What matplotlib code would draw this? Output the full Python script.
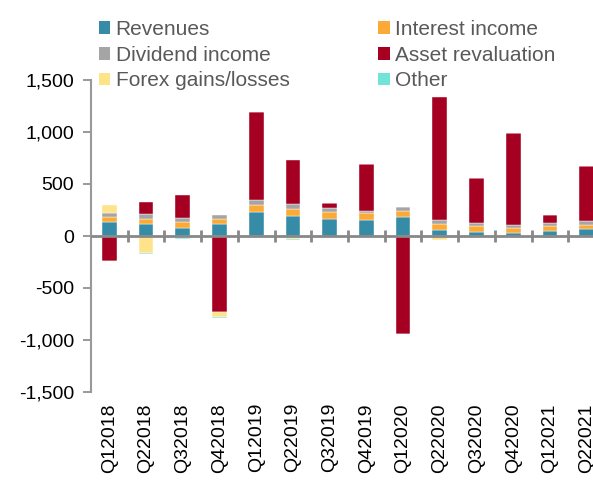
import numpy as np
import matplotlib
matplotlib.use("Agg")
import matplotlib.pyplot as plt
from matplotlib.patches import Patch
from matplotlib.ticker import FuncFormatter

plt.rcParams['font.family'] = ['Liberation Sans', 'DejaVu Sans']

quarters = ['Q12018', 'Q22018', 'Q32018', 'Q42018', 'Q12019', 'Q22019', 'Q32019',
            'Q42019', 'Q12020', 'Q22020', 'Q32020', 'Q42020', 'Q12021', 'Q22021']
revenues = [135, 115, 77, 115, 234, 196, 167, 151, 179, 58, 35, 29, 45, 64]
interest = [51, 45, 54, 51, 67, 67, 67, 67, 58, 58, 58, 45, 48, 38]
dividend = [38, 55, 38, 35, 42, 45, 38, 26, 38, 38, 29, 29, 29, 42]
asset = [-240, 109, 224, -734, 849, 423, 42, 445, -942, 1186, 436, 888, 80, 526]
forex = [74, -167, -15, -48, 0, -32, 0, 0, 0, -38, 0, 0, 0, 0]
other = [-3, -8, -12, -5, -5, -5, 0, 0, -3, -5, 0, 0, -19, 0]

series = [('Revenues', revenues, '#368BA6'),
          ('Interest income', interest, '#FBAA38'),
          ('Dividend income', dividend, '#A5A5A5'),
          ('Asset revaluation', asset, '#A50021'),
          ('Forex gains/losses', forex, '#FFE38A'),
          ('Other', other, '#72E3D8')]

fig = plt.figure(figsize=(5.93, 4.83), dpi=100)
ax = fig.add_axes([91 / 593, 1 - 392 / 483, (605 - 91) / 593, (392 - 80) / 483])

x = np.arange(len(quarters))
pos_base = np.zeros(len(quarters))
neg_base = np.zeros(len(quarters))
for name, vals, col in series:
    v = np.array(vals, dtype=float)
    bottom = np.where(v >= 0, pos_base, neg_base)
    ax.bar(x, v, 0.4, bottom=bottom, color=col, edgecolor='white', linewidth=0.3)
    pos_base += np.clip(v, 0, None)
    neg_base += np.clip(v, None, 0)

ax.set_xlim(-0.5, len(quarters) - 0.5)
ax.set_ylim(-1500, 1500)
ax.set_yticks(np.arange(-1500, 1501, 500))
ax.yaxis.set_major_formatter(FuncFormatter(lambda v, p: f'{v:,.0f}'))
ax.tick_params(axis='y', direction='out', length=6, width=1.2, color='#888888',
               labelsize=14, labelcolor='black', pad=6)

ax.set_xticks(x)
ax.set_xticklabels(quarters, rotation=90)
ax.tick_params(axis='x', length=0, labelsize=14, labelcolor='black', pad=8)

# zero line with category boundary ticks
ax.axhline(0, color='#888888', lw=2, zorder=3)
ax.vlines(x[:-1] + 0.5, -60, 60, color='#888888', lw=2, zorder=3)

for s in ['top', 'right', 'bottom']:
    ax.spines[s].set_visible(False)
ax.spines['left'].set_color('#999999')
ax.spines['left'].set_linewidth(1.5)

order = [0, 2, 4, 1, 3, 5]
handles = [Patch(facecolor=series[i][2], label=series[i][0]) for i in order]
fig.legend(handles=handles, ncol=2, loc='upper left', bbox_to_anchor=(99 / 593, 1 - 20 / 483),
           frameon=False, fontsize=15, labelcolor='#595959', handlelength=0.55,
           handleheight=0.55, handletextpad=0.25, columnspacing=4.25, labelspacing=0.32,
           borderpad=0, borderaxespad=0)

fig.savefig('out.png', dpi=100)
